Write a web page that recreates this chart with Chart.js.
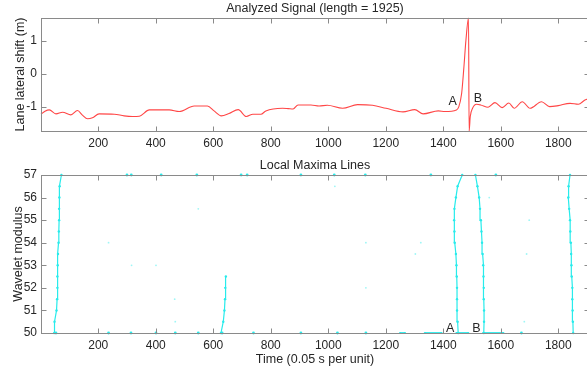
<!DOCTYPE html>
<html><head><meta charset="utf-8">
<script src="https://cdn.jsdelivr.net/npm/chart.js@4.4.0/dist/chart.umd.min.js"></script>
<style>
html,body{margin:0;padding:0;background:#fff;overflow:hidden;width:587px;height:374px;}
#wrap{position:relative;width:587px;height:374px;overflow:hidden;background:#fff;}
canvas{position:absolute;left:0;}
</style></head><body>
<div id="wrap">
<canvas id="topc" width="600" height="152" style="top:0px"></canvas>
<canvas id="botc" width="600" height="217" style="top:157px"></canvas>
</div>
<script>
// ---------- data ----------
const xTickValues = [200, 400, 600, 800, 1000, 1200, 1400, 1600, 1800];
const topYTicks = [-1, 0, 1];
const botYTicks = [50, 51, 52, 53, 54, 55, 56, 57];

const signalT = [1,15,30,53,76,105,128,145,163,180,203,256,290,319,343,378,447,482,534,580,603,628,655,687,715,738,766,783,841,861,878,895,940,968,997,1050,1102,1154,1201,1260,1301,1330,1383,1406,1446,1454,1464,1472,1479,1488,1490,1494,1502,1516,1530,1556,1580,1605,1628,1647,1675,1702,1742,1770,1800,1841,1870,1893,1925];
const signalV = [-1.22,-1.13,-1.09,-1.21,-1.16,-1.24,-1.11,-1.25,-1.36,-1.33,-1.21,-1.22,-1.27,-1.29,-1.28,-1.09,-1.09,-1.14,-0.97,-0.97,-1.12,-1.27,-1.20,-1.08,-1.29,-1.22,-1.22,-1.12,-1.04,-1.05,-1.06,-0.94,-0.94,-0.97,-0.95,-1.04,-0.93,-0.95,-1.04,-1.15,-1.08,-1.21,-1.12,-1.14,-1.09,-1.0,-0.59,0.22,1.03,1.70,-1.73,-1.29,-1.04,-0.92,-0.94,-1.01,-0.87,-1.02,-0.88,-1.04,-0.84,-1.04,-0.84,-0.99,-0.96,-0.89,-0.92,-0.79,-0.70];

const ridgeLevels = [50,50.5,51,51.5,52,52.5,53,53.5,54,54.5,55,55.5,56,56.5,57];
const ridge1T = [47,48,55,57,58,58,59,60,62,63,64,64,65,66,72];
const ridge2T = [627,635,639,641,642,644];
const ridgeAT = [1452,1450,1448,1448,1448,1447,1446,1444,1440,1439,1438,1439,1444,1450,1466];
const ridgeBT = [1541,1542,1542,1541,1541,1540,1539,1537,1535,1533,1531,1528,1525,1519,1512];
const ridge5T = [1852,1851,1850,1849,1849,1847,1846,1845,1844,1842,1841,1838,1835,1836,1841];

const baseSegStart = [1250,1336,1446,1539];
const baseSegEnd = [1267,1394,1487,1609];
const bottomDotsT = [53,236,314,401,468,548,631,740,905,1032,1131,1672];
const topDotsT = [300,315,419,543,697,718,905,1021,1129,1357,1583];
const faintT = [236,316,401,466,468,548,1023,1131,1131,1322,1303,1699,1682,1690,1560];
const faintY = [54,53,53,51.5,50.5,55.5,56.5,54,52,54,53.5,55,50.5,53.5,56];

const topLabels = [{text:'A', x:1433, y:-0.85}, {text:'B', x:1521, y:-0.76}];
const botLabels = [{text:'A', x:1424, y:50.18}, {text:'B', x:1515, y:50.2}];

// ---------- style ----------
const X_MIN = 1, X_MAX = 1907;
const AXIS = '#8a8a8a';
const TXT = '#262626';
const FONT = 'Liberation Sans, Arial, Helvetica, sans-serif';
const CYAN = 'rgb(40,235,235)';

const frame = {
  id: 'frame',
  afterDraw(chart, args, o) {
    const {ctx, chartArea: a, scales: {x, y}} = chart;
    ctx.save();
    ctx.strokeStyle = AXIS; ctx.lineWidth = 1;
    const l = Math.round(a.left) + 0.5, t = Math.round(a.top) + 0.5;
    const r = Math.round(a.right) + 0.5, b = Math.round(a.bottom) + 0.5;
    ctx.strokeRect(l, t, r - l, b - t);
    const L = 5;
    ctx.beginPath();
    x.ticks.forEach(tk => {
      const p = Math.round(x.getPixelForValue(tk.value)) + 0.5;
      ctx.moveTo(p, b); ctx.lineTo(p, b - L);
      ctx.moveTo(p, t); ctx.lineTo(p, t + L);
    });
    y.ticks.forEach(tk => {
      const p = Math.round(y.getPixelForValue(tk.value)) + 0.5;
      ctx.moveTo(l, p); ctx.lineTo(l + L, p);
      ctx.moveTo(r, p); ctx.lineTo(r - L, p);
    });
    ctx.stroke();
    ctx.fillStyle = TXT;
    ctx.font = '12.5px ' + FONT;
    ctx.textAlign = 'center'; ctx.textBaseline = 'middle';
    (o.labels || []).forEach(lb => {
      ctx.fillText(lb.text, x.getPixelForValue(lb.x), y.getPixelForValue(lb.y));
    });
    ctx.restore();
  }
};

function makeOptions(cfg) {
  return {
    responsive: false, animation: false, devicePixelRatio: 1,
    layout: {padding: {left: 0, right: 11, top: 0, bottom: 0}},
    plugins: {
      legend: {display: false}, tooltip: {enabled: false},
      title: {display: true, text: cfg.title, color: TXT, fullSize: false,
              font: {family: FONT, size: 12.5, weight: 'normal'}, padding: {top: 1.5, bottom: 1.5}},
      frame: {labels: cfg.labels}
    },
    scales: {
      x: {
        type: 'linear', min: X_MIN, max: X_MAX,
        afterBuildTicks: s => { s.ticks = xTickValues.map(v => ({value: v})); },
        afterFit: s => { s.height = cfg.bottomH; },
        grid: {display: false, drawTicks: false}, border: {display: false},
        ticks: {color: TXT, font: {family: FONT, size: 12}, padding: 5, maxRotation: 0, autoSkip: false,
                callback: v => String(v)},
        title: {display: !!cfg.xTitle, text: cfg.xTitle || '', color: TXT,
                font: {family: FONT, size: 12.5}, padding: {top: 0, bottom: 7}}
      },
      y: {
        type: 'linear', min: cfg.yMin, max: cfg.yMax,
        afterBuildTicks: s => { s.ticks = cfg.yTicks.map(v => ({value: v})); },
        afterFit: s => { s.width = 41; },
        grid: {display: false, drawTicks: false}, border: {display: false},
        ticks: {color: TXT, font: {family: FONT, size: 12}, padding: 4, callback: v => String(v)},
        title: {display: true, text: cfg.yTitle, color: TXT,
                font: {family: FONT, size: 12.5}, padding: {top: cfg.yTitlePad, bottom: 0}}
      }
    }
  };
}

// ---------- top chart ----------
new Chart(document.getElementById('topc'), {
  type: 'scatter',
  data: {datasets: [{
    data: signalT.map((t, i) => ({x: t, y: signalV[i]})),
    showLine: true, borderColor: 'rgb(255,70,70)', borderWidth: 1.1,
    pointRadius: 0, cubicInterpolationMode: 'monotone', clip: 2
  }]},
  options: makeOptions({title: 'Analyzed Signal (length = 1925)', yTitle: 'Lane lateral shift (m)',
    yMin: -1.73, yMax: 1.70, yTicks: topYTicks, bottomH: 21, labels: topLabels, yTitlePad: 13.5}),
  plugins: [frame]
});

// ---------- bottom chart ----------
function ridge(ts) {
  return {data: ts.map((t, i) => ({x: t, y: ridgeLevels[i]})), showLine: true,
          borderColor: CYAN, backgroundColor: CYAN, borderWidth: 1.2, pointRadius: 1.2,
          pointBorderWidth: 0, clip: 6};
}
const botSets = [ridge(ridge1T), ridge(ridge2T), ridge(ridgeAT), ridge(ridgeBT), ridge(ridge5T)];
baseSegStart.forEach((s, i) => {
  botSets.push({data: [{x: s, y: 50}, {x: baseSegEnd[i], y: 50}], showLine: true,
    borderColor: CYAN, backgroundColor: CYAN, borderWidth: 1.8, pointRadius: 1.1, pointBorderWidth: 0, clip: 6});
});
botSets.push({data: bottomDotsT.map(t => ({x: t, y: 50})), showLine: false,
  backgroundColor: CYAN, pointRadius: 1.4, pointBorderWidth: 0, clip: 6});
botSets.push({data: topDotsT.map(t => ({x: t, y: 57})), showLine: false,
  backgroundColor: CYAN, pointRadius: 1.4, pointBorderWidth: 0, clip: 6});
botSets.push({data: faintT.map((t, i) => ({x: t, y: faintY[i]})), showLine: false,
  backgroundColor: 'rgba(40,235,235,0.45)', pointRadius: 0.9, pointBorderWidth: 0, clip: 6});

new Chart(document.getElementById('botc'), {
  type: 'scatter',
  data: {datasets: botSets},
  options: makeOptions({title: 'Local Maxima Lines', yTitle: 'Wavelet modulus',
    xTitle: 'Time (0.05 s per unit)', yMin: 50, yMax: 57, yTicks: botYTicks, bottomH: 41,
    labels: botLabels, yTitlePad: 11}),
  plugins: [frame]
});
</script>
</body></html>
